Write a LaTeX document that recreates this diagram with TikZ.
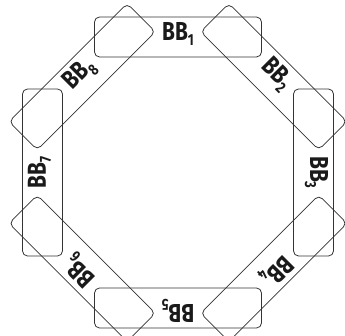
\documentclass[tikz,border=0pt]{standalone}
\usepackage{fontspec}
\usepackage{graphicx}
\newfontfamily\labfont{Fira Sans}
\definecolor{edge}{HTML}{333333}
\definecolor{ink}{HTML}{1A1A1A}
\tikzset{
  bbbox/.style={draw=edge, line width=0.8pt, rounded corners=5pt,
    minimum width=167pt, minimum height=40pt, inner sep=0pt,
    text height=10pt, text depth=3.4pt, transform shape,
    font=\labfont\bfseries\fontsize{26}{26}\selectfont, text=ink}
}
\newcommand{\bblabel}[1]{\scalebox{0.8}[1]{BB\raisebox{-5pt}{\fontsize{16}{16}\selectfont #1}}}
\begin{document}
\begin{tikzpicture}[x=1pt,y=1pt]
\clip (0,0) rectangle (345,336);
\coordinate (c) at (178,163.5);
\foreach \k in {1,...,8}{
  \begin{scope}[shift={(c)}, rotate={-(\k-1)*45}]
    \node[bbbox] (bb\k) at (0,135.5) {\bblabel{\k}};
  \end{scope}
}
\end{tikzpicture}
\end{document}
